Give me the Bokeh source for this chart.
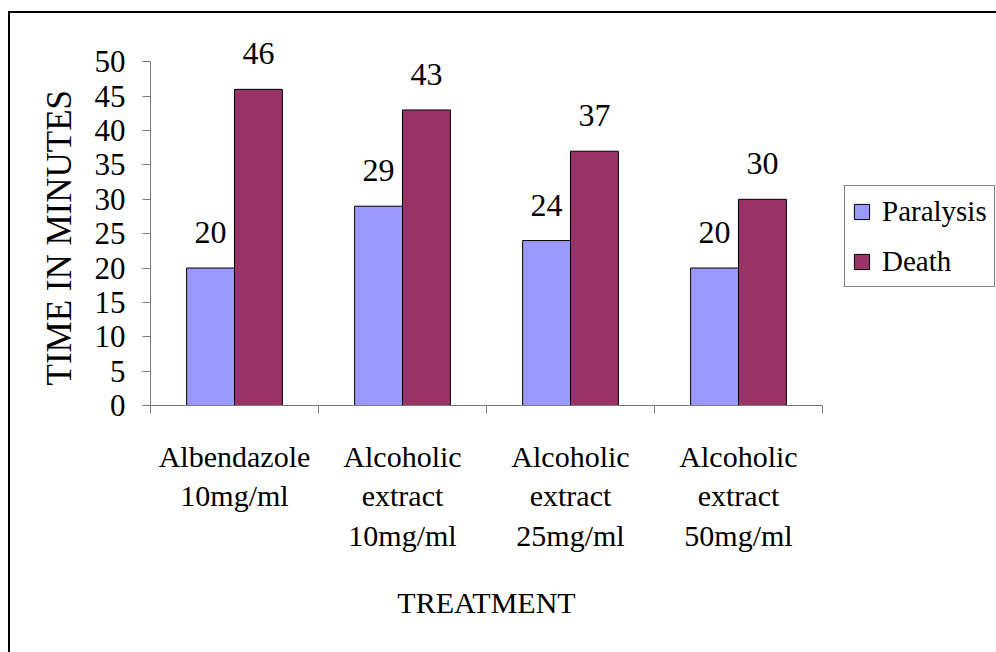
from bokeh.plotting import figure
from bokeh.models import (ColumnDataSource, Range1d, FixedTicker,
                          Legend, LegendItem, LabelSet, Title)
from bokeh.core.properties import value
from bokeh.embed import file_html
from bokeh.resources import INLINE

# ---- data ----
categories = ["Albendazole\n10mg/ml",
              "Alcoholic\nextract\n10mg/ml",
              "Alcoholic\nextract\n25mg/ml",
              "Alcoholic\nextract\n50mg/ml"]
paralysis = [20, 29, 24, 20]
death = [46, 43, 37, 30]
series_names = ["Paralysis", "Death"]
y_ticks = [0, 5, 10, 15, 20, 25, 30, 35, 40, 45, 50]
y_label = "TIME IN MINUTES"
x_label = "TREATMENT"

FONT = "Liberation Serif"
FS = "30px"
BAR_W = 0.285
PAR_COLOR = "#9999FF"
DEATH_COLOR = "#993366"
AXIS_COLOR = "#7a7a7a"

n = len(categories)
centers = [i + 0.5 for i in range(n)]
src = ColumnDataSource(dict(
    x_par=[c - BAR_W / 2 for c in centers],
    x_death=[c + BAR_W / 2 for c in centers],
    paralysis=paralysis,
    death=death,
    par_txt=[str(v) for v in paralysis],
    death_txt=[str(v) for v in death],
))

p = figure(frame_width=672, frame_height=378, output_backend="svg",
           toolbar_location=None,
           x_range=Range1d(0, n), y_range=Range1d(0, y_ticks[-1] + 5),
           min_border_left=140, min_border_right=174, min_border_top=14,
           min_border_bottom=247)
p.margin = (11, 0, 0, 8)
p.styles = {"border-left": "2px solid black", "border-top": "2px solid black"}
p.outline_line_color = None
p.grid.visible = False
p.background_fill_color = "white"
p.border_fill_color = "white"

r_par = p.vbar(x="x_par", top="paralysis", width=BAR_W, source=src,
               fill_color=PAR_COLOR, line_color="black", line_width=1)
r_death = p.vbar(x="x_death", top="death", width=BAR_W, source=src,
                 fill_color=DEATH_COLOR, line_color="black", line_width=1)

for xf, yf, tf in (("x_par", "paralysis", "par_txt"), ("x_death", "death", "death_txt")):
    p.add_layout(LabelSet(x=xf, y=yf, text=tf, source=src, y_offset=25,
                          text_align="center", text_baseline="alphabetic",
                          text_font=value(FONT), text_font_size=value("32px"),
                          text_color="black"))

# y axis
ya = p.yaxis[0]
ya.ticker = FixedTicker(ticks=y_ticks)
ya.bounds = (y_ticks[0], y_ticks[-1])
ya.minor_tick_line_color = None
ya.major_tick_in = 0
ya.major_tick_out = 8
ya.axis_line_color = AXIS_COLOR
ya.major_tick_line_color = AXIS_COLOR
ya.major_label_text_font = FONT
ya.major_label_text_font_size = "31px"
ya.major_label_text_color = "black"
ya.major_label_standoff = 17

p.add_layout(Title(text=y_label, align="left", offset=20, standoff=21,
                   vertical_align="top",
                   text_font=FONT, text_font_size="35px",
                   text_font_style="normal", text_color="black"), "left")

# x axis
xa = p.xaxis[0]
xa.ticker = FixedTicker(ticks=centers, minor_ticks=list(range(n + 1)))
xa.major_label_overrides = {c: lab for c, lab in zip(centers, categories)}
xa.major_tick_in = 0
xa.major_tick_out = 0
xa.minor_tick_in = 0
xa.minor_tick_out = 8
xa.axis_line_color = AXIS_COLOR
xa.minor_tick_line_color = AXIS_COLOR
xa.major_label_text_font = FONT
xa.major_label_text_font_size = FS
xa.major_label_text_color = "black"
xa.major_label_standoff = 26
xa.axis_label = x_label
xa.axis_label_text_font = FONT
xa.axis_label_text_font_size = FS
xa.axis_label_text_font_style = "normal"
xa.axis_label_text_color = "black"
xa.axis_label_standoff = 31

legend = Legend(items=[LegendItem(label=series_names[0], renderers=[r_par]),
                       LegendItem(label=series_names[1], renderers=[r_death])],
                location=(22, 118))
legend.margin = 0
legend.label_text_font = FONT
legend.label_text_font_size = "29px"
legend.label_text_color = "black"
legend.glyph_width = 19
legend.glyph_height = 19
legend.label_standoff = 11
legend.padding = 7
legend.spacing = 14
legend.label_height = 36
legend.border_line_color = "black"
legend.border_line_width = 1
legend.background_fill_alpha = 1
p.add_layout(legend, "right")

open("out.html", "w").write(file_html(p, INLINE))
